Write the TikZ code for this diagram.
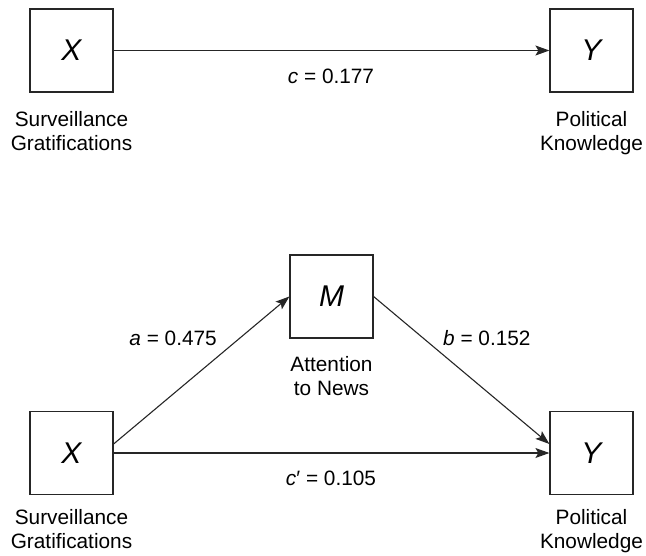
\documentclass[tikz,border=0pt]{standalone}
\usepackage{fontspec}
\setmainfont{Liberation Sans}
\usetikzlibrary{arrows.meta}
\begin{document}
\begin{tikzpicture}[x=1pt,y=-1pt,
  var/.style={draw=black!85, line width=1.2pt, minimum size=83pt, inner sep=0pt,
    font=\fontsize{30}{30}\selectfont\itshape},
  caption/.style={align=center, inner sep=0pt, anchor=north,
    font=\fontsize{20.8}{24}\selectfont},
  coef/.style={inner sep=0pt, font=\fontsize{20.8}{24}\selectfont},
  effect/.style={draw=black!85, line width=1.1pt,
    -{Stealth[length=14pt,width=10pt,inset=3pt]}}]
\useasboundingbox (0,0) rectangle (646,555);

% Total effect model
\node[var] (x1) at (71.5,50.5) {X};
\node[var] (y1) at (591.5,50.5) {Y};
\node[caption] (x1lab) at (71.5,111) {Surveillance\\Gratifications};
\node[caption] (y1lab) at (591.5,111) {Political\\Knowledge};
\draw[effect] (x1) -- (y1);
\node[coef, anchor=base] (c) at (331,83) {\textit{c} = 0.177};

% Mediation model
\node[var] (x2) at (71.5,453) {X};
\node[var] (m) at (331.5,296.5) {M};
\node[var] (y2) at (591.5,453) {Y};
\node[caption] (x2lab) at (71.5,509.5) {Surveillance\\Gratifications};
\node[caption] (mlab) at (331.5,356) {Attention\\to News};
\node[caption] (y2lab) at (591.5,509.5) {Political\\Knowledge};
\draw[effect] ([yshift=9pt]x2.east) -- (m.west);
\draw[effect] (m.east) -- ([yshift=9pt]y2.west);
\draw[effect] (x2) -- (y2);
\node[coef, anchor=base east] (a) at (217,345) {\textit{a} = 0.475};
\node[coef, anchor=base west] (b) at (443,345) {\textit{b} = 0.152};
\node[coef, anchor=base] (cp) at (331,485) {\textit{c}′ = 0.105};
\end{tikzpicture}
\end{document}
